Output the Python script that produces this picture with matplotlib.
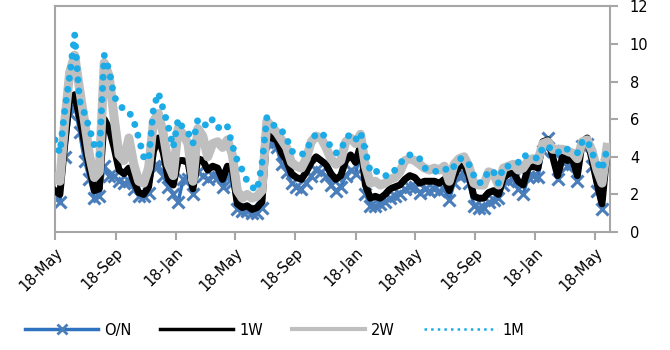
import numpy as np
import pandas as pd
import matplotlib
matplotlib.use('Agg')
import matplotlib.pyplot as plt
import matplotlib.dates as mdates
from matplotlib.lines import Line2D

# rates, one value every 10 days from 18-May
on = [1.8, 1.6, 4.0, 6.3, 6.8, 5.3, 3.8, 2.8, 1.8, 1.9,
      3.5, 3.0, 3.0, 2.7, 2.6, 2.7, 2.3, 1.9, 1.9, 2.1,
      3.5, 3.5, 3.0, 2.4, 2.0, 1.6, 2.8, 2.8, 2.0, 3.2,
      3.0, 2.8, 3.0, 2.9, 2.4, 3.0, 2.6, 1.2, 1.1, 1.1,
      1.0, 1.0, 1.3, 4.8, 4.7, 4.5, 3.6, 3.2, 2.6, 2.4,
      2.3, 2.6, 3.0, 3.3, 3.2, 3.0, 2.5, 2.2, 2.4, 3.0,
      3.3, 3.1, 4.3, 2.0, 1.4, 1.4, 1.5, 1.6, 1.8, 1.9,
      2.0, 2.3, 2.4, 2.4, 2.1, 2.3, 2.2, 2.3, 2.2, 2.3,
      1.7, 2.6, 3.0, 3.1, 2.6, 1.4, 1.3, 1.3, 1.6, 1.7,
      1.8, 2.5, 2.7, 2.8, 2.3, 2.0, 2.9, 3.0, 2.9, 4.3,
      5.0, 4.3, 2.8, 3.8, 3.5, 3.6, 2.7, 4.6, 4.7, 3.5,
      2.2, 1.2, 3.6]
w1 = [2.2, 2.0, 4.7, 7.1, 7.3, 6.1, 4.7, 3.4, 2.2, 2.3,
      6.0, 5.5, 4.5, 3.3, 3.1, 3.4, 2.7, 2.1, 2.0, 2.4,
      4.3, 5.0, 4.2, 2.8, 2.5, 3.8, 3.8, 3.7, 2.3, 3.9,
      3.8, 3.3, 3.5, 3.4, 2.8, 3.5, 3.3, 1.5, 1.3, 1.4,
      1.2, 1.3, 1.6, 5.2, 5.0, 4.9, 4.2, 3.8, 3.1, 2.9,
      2.8, 3.2, 3.7, 4.0, 3.8, 3.6, 3.1, 2.8, 3.0, 3.8,
      4.1, 3.7, 4.6, 2.5, 1.8, 1.9, 1.8, 2.0, 2.3, 2.4,
      2.5, 2.8, 3.0, 2.9, 2.6, 2.7, 2.7, 2.7, 2.6, 2.8,
      2.2, 3.0, 3.5, 3.6, 3.0, 1.9, 1.8, 1.8, 2.1, 2.2,
      2.0, 2.9, 3.1, 3.2, 2.7, 2.5, 3.4, 3.5, 3.4, 4.8,
      4.9, 4.0, 3.0, 4.0, 3.8, 3.9, 3.0, 4.8, 5.0, 3.8,
      2.6, 1.5, 4.2]
w2 = [2.9, 2.7, 5.9, 8.5, 9.4, 7.6, 5.9, 4.1, 2.9, 3.2,
      9.0, 8.3, 6.1, 4.1, 3.8, 5.0, 3.6, 2.7, 2.6, 3.4,
      5.9, 6.3, 5.2, 3.6, 3.0, 5.5, 5.2, 4.7, 2.7, 5.5,
      5.1, 4.0, 4.7, 4.8, 4.5, 4.9, 4.1, 2.2, 1.8, 2.0,
      1.8, 1.9, 2.2, 5.9, 5.6, 5.3, 4.9, 4.5, 3.7, 3.5,
      3.4, 3.9, 4.8, 5.1, 5.0, 4.5, 3.9, 3.6, 3.8, 4.8,
      5.0, 4.7, 5.2, 3.5, 2.6, 2.7, 2.5, 2.6, 2.8, 2.9,
      3.2, 3.8, 3.9, 3.8, 3.6, 3.4, 3.3, 3.4, 3.3, 3.5,
      2.7, 3.6, 3.9, 4.0, 3.5, 2.6, 2.5, 2.5, 3.2, 3.1,
      2.5, 3.4, 3.5, 3.6, 3.3, 3.4, 3.8, 3.9, 3.8, 4.7,
      4.8, 4.4, 4.4, 4.4, 4.3, 4.2, 3.9, 4.8, 4.9, 4.3,
      3.3, 2.6, 4.5]
m1 = [4.9, 4.2, 6.5, 8.3, 10.5, 7.0, 6.3, 5.5, 4.6, 4.1,
      9.4, 8.6, 7.2, 6.8, 6.5, 6.4, 5.9, 5.0, 4.0, 3.8,
      6.6, 7.4, 6.5, 5.6, 4.5, 6.0, 5.5, 5.3, 4.7, 6.0,
      5.8, 5.6, 6.0, 5.6, 5.4, 5.6, 4.6, 3.8, 3.3, 2.7,
      2.4, 2.2, 3.6, 6.1, 5.8, 5.5, 5.4, 5.0, 4.3, 4.2,
      4.1, 4.3, 4.9, 5.2, 5.3, 5.0, 4.5, 4.2, 4.3, 5.0,
      5.2, 4.9, 5.3, 4.3, 3.2, 3.3, 3.0, 3.0, 3.0, 3.3,
      3.6, 4.0, 4.1, 4.1, 3.9, 3.4, 3.3, 3.2, 3.3, 3.4,
      3.2, 3.5, 3.9, 3.9, 3.6, 3.0, 2.6, 2.7, 3.3, 3.2,
      2.6, 3.5, 3.5, 3.6, 3.7, 4.1, 4.0, 4.0, 3.9, 4.5,
      4.6, 4.3, 4.2, 4.5, 4.4, 4.3, 4.2, 4.8, 4.9, 4.2,
      3.7, 3.3, 4.4]

dates = pd.date_range('2017-05-18', periods=len(on), freq='10D')
yticks = [0, 2, 4, 6, 8, 10, 12]

c_on = '#2f72bf'
c_onm = '#4a7ebb'
c_w1 = '#000000'
c_w2 = '#bfbfbf'
c_m1 = '#1cabe6'
c_ax = '#a6a6a6'

fig = plt.figure(figsize=(6.7, 3.5), dpi=100)
ax = fig.add_axes([0.082, 0.337, 0.829, 0.645])

ax.plot(dates, on, color=c_on, lw=2.5, marker='x', ms=8, mew=2.2, mec=c_onm, zorder=2)
ax.plot(dates, w1, color=c_w1, lw=5, zorder=3)
ax.plot(dates, w2, color=c_w2, lw=6.5, zorder=4)
ax.plot(dates, m1, color=c_m1, lw=5, linestyle=(0, (0.01, 1.6)),
        dash_capstyle='round', zorder=5)

ax.set_xlim(pd.Timestamp('2017-05-18'), pd.Timestamp('2020-06-18'))
ax.set_ylim(0, 12)
ax.set_yticks(yticks)
ax.yaxis.tick_right()
ax.xaxis.set_major_locator(mdates.MonthLocator(bymonth=[1, 5, 9], bymonthday=18))
ax.xaxis.set_major_formatter(mdates.DateFormatter('%d-%b'))

for s in ax.spines.values():
    s.set_color(c_ax)
    s.set_linewidth(1.5)
ax.tick_params(axis='both', colors=c_ax, width=1.5, length=6, labelcolor='black', labelsize=10.5)
ax.tick_params(axis='y', pad=8)
for lab in ax.get_xticklabels():
    lab.set_rotation(45)
    lab.set_ha('right')
    lab.set_rotation_mode('anchor')

handles = [
    Line2D([], [], color=c_on, lw=2.5, marker='x', ms=7, mew=2, mec=c_onm),
    Line2D([], [], color=c_w1, lw=2.5),
    Line2D([], [], color=c_w2, lw=3),
    Line2D([], [], color=c_m1, lw=1.8, linestyle=':'),
]
fig.legend(handles, ['O/N', '1W', '2W', '1M'], loc='center', ncol=4,
           bbox_to_anchor=(0.41, 0.057), frameon=False, fontsize=10.5,
           handlelength=5, handletextpad=0.4, columnspacing=2.0, numpoints=1)

fig.savefig('out.png', dpi=100)
